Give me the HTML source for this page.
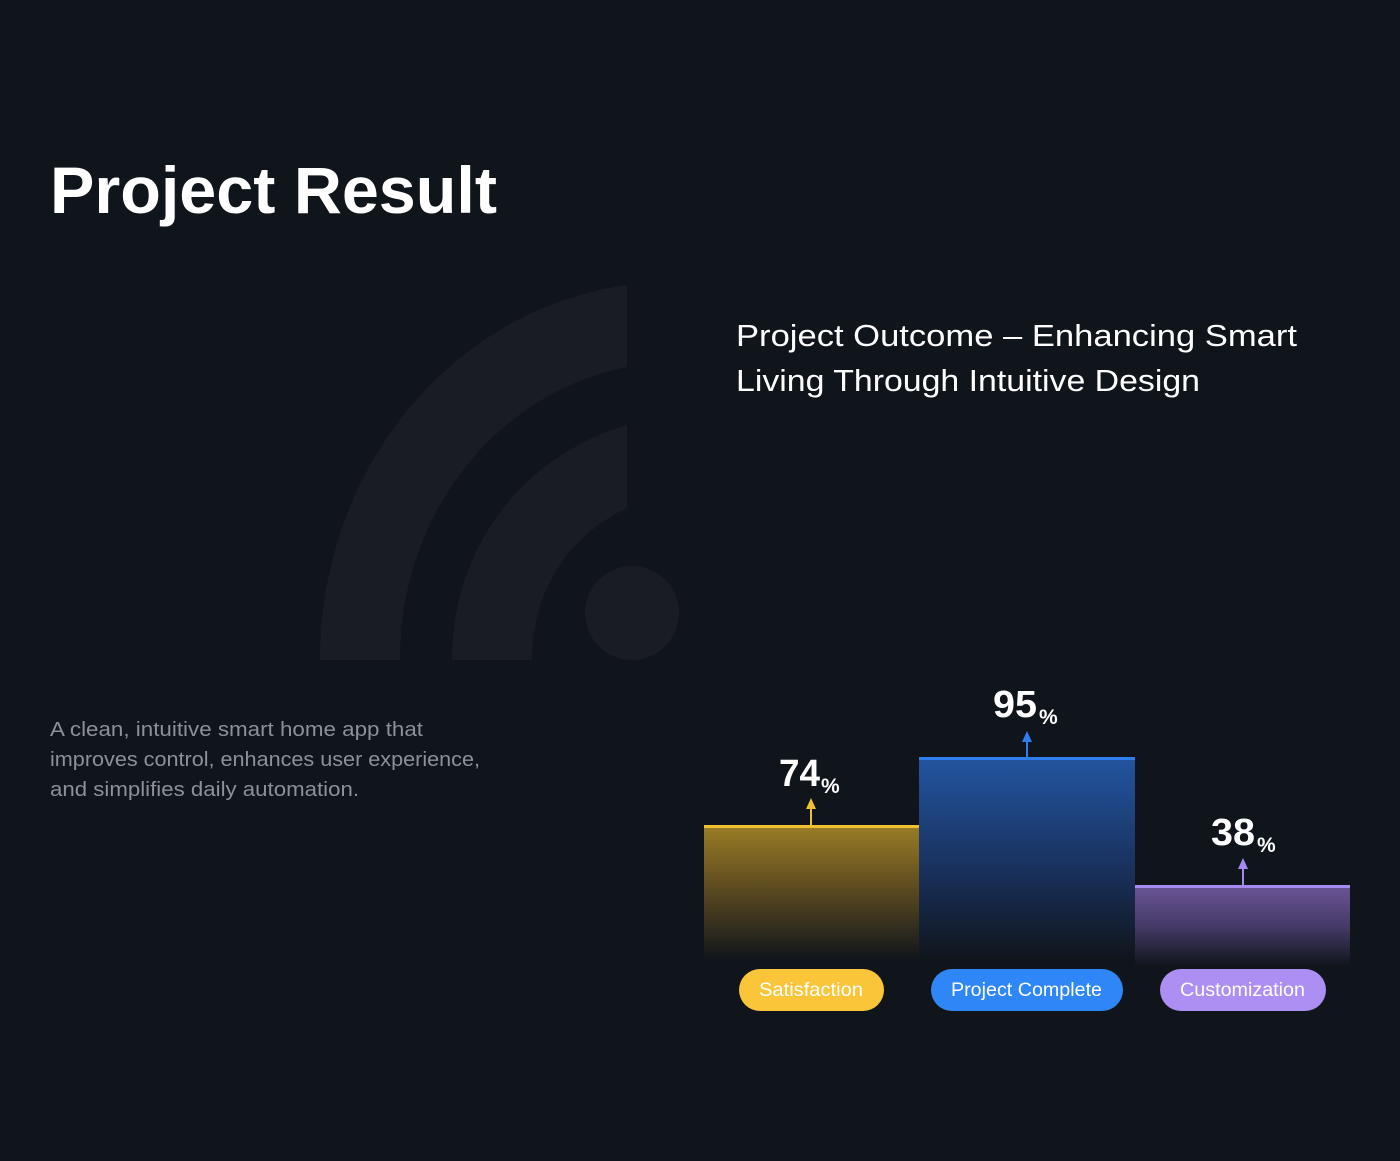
<!DOCTYPE html>
<html><head><meta charset="utf-8"><style>
html,body{margin:0;padding:0;background:#10151b;}
svg{display:block;}
</style></head><body>
<svg width="1400" height="1161" viewBox="0 0 1400 1161" xmlns="http://www.w3.org/2000/svg" font-family="Liberation Sans, sans-serif">
<defs>
<linearGradient id="gy" x1="0" y1="0" x2="0" y2="1"><stop offset="0" stop-color="#9a7d26"/><stop offset="0.45" stop-color="#5e4c20"/><stop offset="1" stop-color="#10151b"/></linearGradient>
<linearGradient id="gb" x1="0" y1="0" x2="0" y2="1"><stop offset="0" stop-color="#22559f"/><stop offset="0.5" stop-color="#1a3464"/><stop offset="1" stop-color="#10151b"/></linearGradient>
<linearGradient id="gp" x1="0" y1="0" x2="0" y2="1"><stop offset="0" stop-color="#6a5596"/><stop offset="0.5" stop-color="#463a68"/><stop offset="1" stop-color="#10151b"/></linearGradient>
</defs>
<rect width="1400" height="1161" fill="#10151b"/>
<g fill="#191c22">
<path d="M320,660 C320,470 450,310 627,285 L627,367 C500,392 400,510 400,660 Z"/>
<path d="M452,660 C452,545 525,455 627,425 L627,508 C570,535 532,590 532,660 Z"/>
<circle cx="632" cy="613" r="47"/>
</g>
<text x="50" y="213" fill="#fff" font-size="66" font-weight="bold" textLength="447" lengthAdjust="spacingAndGlyphs">Project Result</text>
<text x="736" y="346" fill="#fff" font-size="31" textLength="561" lengthAdjust="spacingAndGlyphs">Project Outcome – Enhancing Smart</text>
<text x="736" y="391" fill="#fff" font-size="31" textLength="464" lengthAdjust="spacingAndGlyphs">Living Through Intuitive Design</text>
<g fill="#8c9097" font-size="20">
<text x="50" y="736" textLength="373" lengthAdjust="spacingAndGlyphs">A clean, intuitive smart home app that</text>
<text x="50" y="766" textLength="430" lengthAdjust="spacingAndGlyphs">improves control, enhances user experience,</text>
<text x="50" y="796" textLength="309" lengthAdjust="spacingAndGlyphs">and simplifies daily automation.</text>
</g>
<rect x="704" y="826" width="215" height="134" fill="url(#gy)"/>
<rect x="704" y="825" width="215" height="3" fill="#f0c030"/>
<rect x="919" y="758" width="216" height="202" fill="url(#gb)"/>
<rect x="919" y="757" width="216" height="3" fill="#2f7ef0"/>
<rect x="1135" y="886" width="215" height="80" fill="url(#gp)"/>
<rect x="1135" y="885" width="215" height="3" fill="#a68af0"/>
<g stroke-width="2">
<line x1="811" y1="826" x2="811" y2="806" stroke="#f0c030"/><path d="M806,809 L811,798 L816,809 Z" fill="#f0c030"/>
<line x1="1027" y1="758" x2="1027" y2="739" stroke="#2f7ef0"/><path d="M1022,742 L1027,731 L1032,742 Z" fill="#2f7ef0"/>
<line x1="1243" y1="886" x2="1243" y2="866" stroke="#a68af0"/><path d="M1238,869 L1243,858 L1248,869 Z" fill="#a68af0"/>
</g>
<g fill="#fff" font-weight="bold">
<text x="779" y="786" font-size="38" textLength="41" lengthAdjust="spacingAndGlyphs">74</text><text x="821" y="793" font-size="21">%</text>
<text x="993" y="717" font-size="38" textLength="44" lengthAdjust="spacingAndGlyphs">95</text><text x="1039" y="724" font-size="21">%</text>
<text x="1211" y="845" font-size="38" textLength="44" lengthAdjust="spacingAndGlyphs">38</text><text x="1257" y="852" font-size="21">%</text>
</g>
<rect x="739" y="969" width="145" height="42" rx="21" fill="#fbc53a"/>
<rect x="931" y="969" width="192" height="42" rx="21" fill="#2f86f6"/>
<rect x="1160" y="969" width="166" height="42" rx="21" fill="#ad8ef3"/>
<g fill="#fff" font-size="19">
<text x="759" y="996" textLength="104" lengthAdjust="spacingAndGlyphs">Satisfaction</text>
<text x="951" y="996" textLength="151" lengthAdjust="spacingAndGlyphs">Project Complete</text>
<text x="1180" y="996" textLength="125" lengthAdjust="spacingAndGlyphs">Customization</text>
</g>
</svg>
</body></html>
